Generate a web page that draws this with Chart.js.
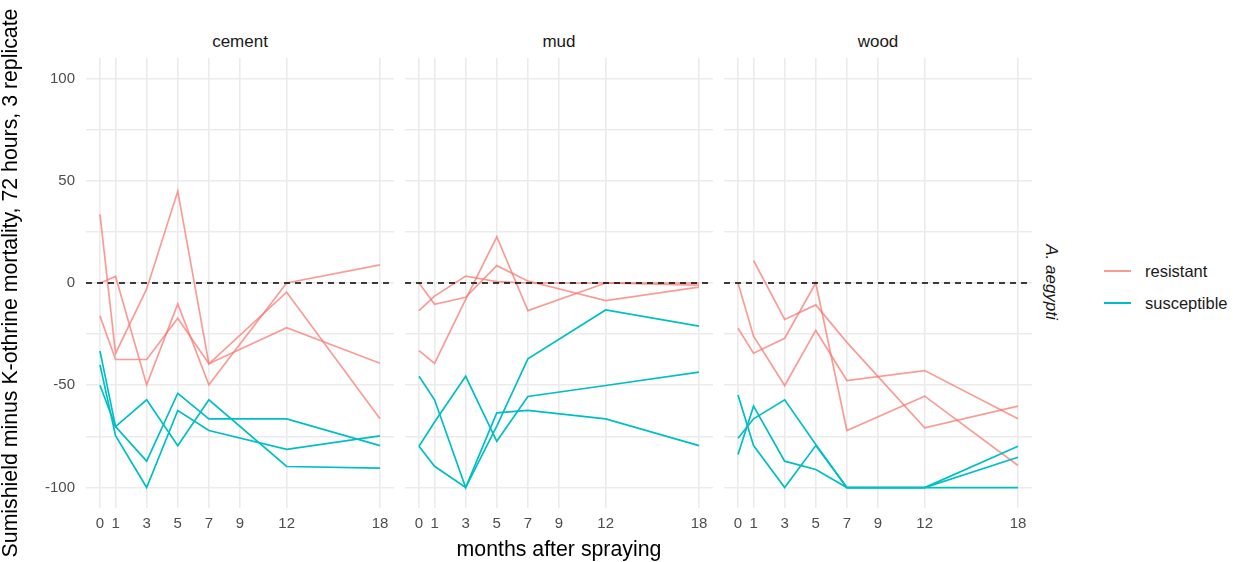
<!DOCTYPE html>
<html lang="en">

<head>
    <meta charset="UTF-8">
    <title>Sumishield minus K-othrine mortality</title>
    <script src="https://cdn.jsdelivr.net/npm/chart.js"></script>
    <style>
        body {
            margin: 0;
            background: #fff;
            font-family: "Liberation Sans", Arial, sans-serif;
        }

        #wrap {
            position: relative;
            width: 1239px;
            height: 562px;
            overflow: hidden;
        }

        canvas {
            position: absolute;
            top: 58px;
        }

        .strip {
            position: absolute;
            top: 31px;
            width: 308px;
            text-align: center;
            font-size: 17px;
            line-height: 22px;
            color: #1a1a1a;
        }

        .ytitle {
            position: absolute;
            left: -290px;
            top: 270px;
            width: 600px;
            height: 26px;
            line-height: 26px;
            text-align: center;
            font-size: 21.3px;
            color: #000;
            transform: rotate(-90deg);
            white-space: nowrap;
        }

        .xtitle {
            position: absolute;
            left: 359px;
            top: 536px;
            width: 400px;
            line-height: 26px;
            text-align: center;
            font-size: 21.3px;
            color: #000;
        }

        .rstrip {
            position: absolute;
            left: 951px;
            top: 270px;
            width: 200px;
            line-height: 24px;
            text-align: center;
            font-size: 17px;
            font-style: italic;
            color: #1a1a1a;
            transform: rotate(90deg);
        }

        .key {
            position: absolute;
            left: 1104px;
            width: 27px;
            height: 2px;
        }

        .keytext {
            position: absolute;
            left: 1145px;
            font-size: 16.5px;
            line-height: 20px;
            color: #1a1a1a;
        }
    </style>
</head>

<body>
    <div id="wrap">
        <div class="strip" style="left:86px">cement</div>
        <div class="strip" style="left:405px">mud</div>
        <div class="strip" style="left:724px">wood</div>

        <canvas id="cement" width="394" height="482" style="left:0px"></canvas>
        <canvas id="mud" width="308" height="482" style="left:405px"></canvas>
        <canvas id="wood" width="308" height="482" style="left:724px"></canvas>

        <div class="ytitle">Sumishield minus K-othrine mortality, 72 hours, 3 replicate</div>
        <div class="xtitle">months after spraying</div>
        <div class="rstrip">A. aegypti</div>

        <div class="key" id="key-res" style="top:270px"></div>
        <div class="keytext" style="top:261px">resistant</div>
        <div class="key" id="key-sus" style="top:302px"></div>
        <div class="keytext" style="top:293px">susceptible</div>
    </div>

    <script>
        // months at which mortality was measured
        const months = [0, 1, 3, 5, 7, 12, 18];
        const xTicks = [0, 1, 3, 5, 7, 9, 12, 18];
        const yTicks = [-100, -75, -50, -25, 0, 25, 50, 75, 100];
        const refLevel = 0;

        // three replicates per strain, values read at the months above
        const cementResistant = [
            [33.5, -34.4, -2.9, 44.9, -39.5, -4.5, -66.4],
            [0, 3.2, -49.8, -10.2, -49.8, 0, 8.9],
            [-16.2, -37.4, -37.4, -17.2, -39.5, -21.9, -39.2]
        ];
        const cementSusceptible = [
            [-50, -70.2, -57.1, -79.5, -57.1, -89.7, -90.5],
            [-33.3, -70.2, -87.1, -53.9, -66.4, -66.4, -79.5],
            [-40, -74.6, -100, -62.3, -72.1, -81.3, -74.7]
        ];
        const mudResistant = [
            [-33.1, -39.3, -8, 22.6, -13.5, 0, -1],
            [-13.5, -6.4, 3.4, 0.7, 0, 0, 0],
            [0, -10.4, -7, 8.5, 1, -8.6, -2]
        ];
        const mudSusceptible = [
            [-45.6, -57.1, -100, -63.5, -62.3, -66.4, -79.5],
            [-79.8, -89.6, -100, -70, -37.1, -13.2, -21.1],
            [-79.8, -68, -45.6, -77.4, -55.5, -50.1, -43.6]
        ];
        const woodResistant = [
            [null, 11, -17.8, -10.7, -29, -70.8, -60.2],
            [0, -26, -50.1, -23.2, -47.7, -42.8, -66.4],
            [-22.1, -34.3, -27, 0, -72.1, -55.3, -89.2]
        ];
        const woodSusceptible = [
            [-54.7, -79.5, -100, -79.5, -100, -100, -100],
            [-83.9, -60.2, -87.1, -91.2, -100, -100, -85.2],
            [-75.9, -66.4, -57.1, -79, -100, -100, -79.8]
        ];

        const resColor = 'rgba(248, 118, 109, 0.72)';
        const susColor = 'rgba(0, 191, 196, 1)';
        const gridColor = '#ebebeb';

        document.getElementById('key-res').style.background = resColor;
        document.getElementById('key-sus').style.background = susColor;

        Chart.defaults.font.family = '"Liberation Sans", Arial, sans-serif';

        // dashed horizontal line at the reference level
        const refLine = {
            id: 'refLine',
            afterDatasetsDraw(chart) {
                const { ctx, chartArea, scales } = chart;
                const y = scales.y.getPixelForValue(refLevel);
                ctx.save();
                ctx.strokeStyle = '#000';
                ctx.lineWidth = 1.6;
                ctx.setLineDash([6, 5]);
                ctx.beginPath();
                ctx.moveTo(chartArea.left, y);
                ctx.lineTo(chartArea.right, y);
                ctx.stroke();
                ctx.restore();
            }
        };

        function series(values, color, order) {
            return {
                data: values.map((v, i) => ({ x: months[i], y: v })),
                borderColor: color,
                borderWidth: 1.7,
                pointRadius: 0,
                tension: 0,
                fill: false,
                order: order
            };
        }

        function makePanel(id, resistant, susceptible, showY) {
            const datasets = [];
            susceptible.forEach(s => datasets.push(series(s, susColor, 1)));
            resistant.forEach(s => datasets.push(series(s, resColor, 2)));

            new Chart(document.getElementById(id), {
                type: 'line',
                data: { datasets: datasets },
                options: {
                    responsive: false,
                    animation: false,
                    layout: { padding: 0, autoPadding: false },
                    plugins: { legend: { display: false }, tooltip: { enabled: false } },
                    scales: {
                        x: {
                            type: 'linear',
                            min: -0.9,
                            max: 18.9,
                            afterBuildTicks: scale => { scale.ticks = xTicks.map(v => ({ value: v })); },
                            afterFit: scale => {
                                scale.height = 32;
                                scale.paddingLeft = 0;
                                scale.paddingRight = 0;
                            },
                            grid: { color: gridColor, lineWidth: 1.6, drawTicks: false },
                            border: { display: false },
                            ticks: { color: '#4d4d4d', font: { size: 15 }, padding: 7, maxRotation: 0, autoSkip: false }
                        },
                        y: {
                            min: -110,
                            max: 110,
                            afterBuildTicks: scale => { scale.ticks = yTicks.map(v => ({ value: v })); },
                            afterFit: scale => {
                                scale.width = showY ? 86 : 0;
                                scale.paddingTop = 0;
                                scale.paddingBottom = 0;
                            },
                            grid: { color: gridColor, lineWidth: 1.6, drawTicks: false },
                            border: { display: false },
                            ticks: {
                                display: showY,
                                autoSkip: false,
                                color: '#4d4d4d',
                                font: { size: 15 },
                                padding: 11,
                                callback: v => (v % 50 === 0 ? v : '')
                            }
                        }
                    }
                },
                plugins: [refLine]
            });
        }

        makePanel('cement', cementResistant, cementSusceptible, true);
        makePanel('mud', mudResistant, mudSusceptible, false);
        makePanel('wood', woodResistant, woodSusceptible, false);
    </script>
</body>

</html>
